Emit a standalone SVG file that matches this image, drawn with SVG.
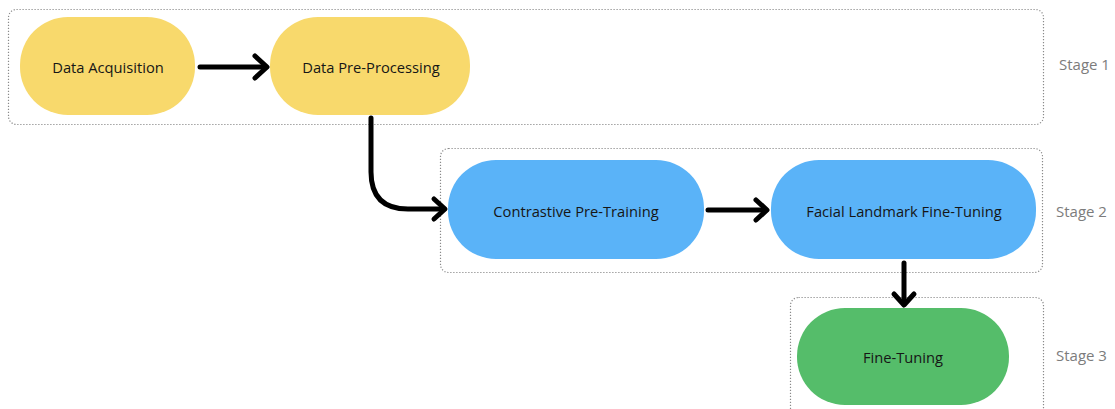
<svg xmlns="http://www.w3.org/2000/svg" width="1115" height="409" viewBox="0 0 1115 409">
  <style>
    .stage { fill: none; stroke: #8a8a8a; stroke-width: 1.2; stroke-dasharray: 1.2 1.8; }
    .stage-label { font-family: "Open Sans", "Liberation Sans", sans-serif; font-size: 15px; fill: #7c7c7c; dominant-baseline: central; }
    .node-label { font-family: "Open Sans", "Liberation Sans", sans-serif; font-size: 14.7px; font-weight: 500; fill: #161616; text-anchor: middle; dominant-baseline: central; }
    .yellow { fill: #f8d96c; }
    .blue { fill: #5ab3f8; }
    .green { fill: #55bd6a; }
    .edge { fill: none; stroke: #000; stroke-width: 5; stroke-linecap: round; stroke-linejoin: round; }
  </style>

  <rect width="1115" height="409" fill="#ffffff"/>

  <!-- stage frames -->
  <g id="stages">
    <rect class="stage" x="8.5" y="9.5" width="1035" height="115" rx="8"/>
    <text class="stage-label" x="1059" y="64">Stage 1</text>
    <rect class="stage" x="440.5" y="148.5" width="602" height="124" rx="8"/>
    <text class="stage-label" x="1056" y="211">Stage 2</text>
    <rect class="stage" x="790.5" y="297.5" width="253" height="130" rx="8"/>
    <text class="stage-label" x="1056" y="355">Stage 3</text>
  </g>

  <!-- connectors -->
  <g id="connectors">
    <path class="edge" d="M200 67 H266"/>
    <path class="edge" d="M255 56 L267 67 L255 78"/>

    <path class="edge" d="M371 118 V172 Q371 209 408 209 H444"/>
    <path class="edge" d="M434 199 L445 209 L434 219"/>

    <path class="edge" d="M708 210 H766"/>
    <path class="edge" d="M756 200 L767 210 L756 220"/>

    <path class="edge" d="M904 263 V304"/>
    <path class="edge" d="M894 294 L904 305 L914 294"/>
  </g>

  <!-- stage 1 nodes -->
  <g id="data-acquisition">
    <rect class="yellow" x="20" y="17" width="175" height="98" rx="48"/>
    <text class="node-label" x="108" y="67">Data Acquisition</text>
  </g>
  <g id="data-pre-processing">
    <rect class="yellow" x="270" y="17" width="200" height="98" rx="48"/>
    <text class="node-label" x="371" y="67">Data Pre-Processing</text>
  </g>

  <!-- stage 2 nodes -->
  <g id="contrastive-pre-training">
    <rect class="blue" x="448" y="160" width="256" height="99" rx="48"/>
    <text class="node-label" x="576" y="211">Contrastive Pre-Training</text>
  </g>
  <g id="facial-landmark-fine-tuning">
    <rect class="blue" x="771" y="160" width="265" height="99" rx="48"/>
    <text class="node-label" x="904" y="211">Facial Landmark Fine-Tuning</text>
  </g>

  <!-- stage 3 node -->
  <g id="fine-tuning">
    <rect class="green" x="797" y="308" width="212" height="97" rx="48"/>
    <text class="node-label" x="903" y="357">Fine-Tuning</text>
  </g>
</svg>
